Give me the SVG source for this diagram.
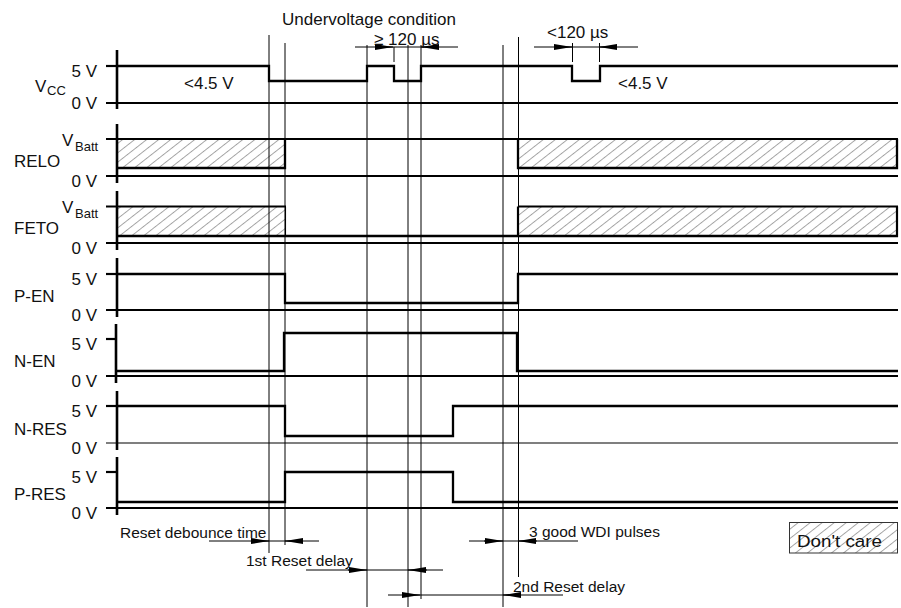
<svg xmlns="http://www.w3.org/2000/svg" width="901" height="608" viewBox="0 0 901 608">
<style>
text{font-family:"Liberation Sans",Arial,Helvetica,sans-serif;font-size:17px;fill:#111}
.sub{font-size:13px}
.note{font-size:15.5px}
.sig{fill:none;stroke:#000;stroke-width:2.3;stroke-linejoin:miter}
.base{fill:none;stroke:#000;stroke-width:2.2}
.thin{fill:none;stroke:#000;stroke-width:1.1}
.axis{fill:none;stroke:#000;stroke-width:2.6}
.guide{fill:none;stroke:#000;stroke-width:1}
.r{text-anchor:end}
</style>
<defs>
<pattern id="hatch" patternUnits="userSpaceOnUse" width="7.4" height="7.4" patternTransform="rotate(-38)">
<rect width="7.4" height="7.4" fill="#fff"/>
<line x1="0" y1="0.5" x2="7.4" y2="0.5" stroke="#808080" stroke-width="0.7"/>
</pattern>
<marker id="ah" viewBox="0 0 18 6" refX="18" refY="3" markerWidth="18" markerHeight="6" markerUnits="userSpaceOnUse" orient="auto">
<path d="M0,0 L18,3 L0,6 Z" fill="#000"/>
</marker>
</defs>
<rect width="901" height="608" fill="#fff"/>

<g id="vcc">
<text x="35" y="92">V</text><text class="sub" x="47" y="95">CC</text>
<text class="r" x="97" y="77">5 V</text>
<text class="r" x="97" y="109">0 V</text>
<line class="axis" x1="117" y1="50" x2="117" y2="109"/>
<line class="base" x1="106" y1="66" x2="117" y2="66"/>
<line class="base" x1="106" y1="103" x2="898" y2="103"/>
<path class="sig" d="M117,66 H269 V81 H367 V66 H394 V81 H421 V66 H572 V81 H600 V66 H898"/>
<text x="184" y="89">&lt;4.5 V</text>
<text x="618" y="89">&lt;4.5 V</text>
</g>

<g id="relo">
<text x="14" y="167">RELO</text>
<text x="62" y="146">V</text><text class="sub" x="75" y="151">Batt</text>
<text class="r" x="97" y="187">0 V</text>
<rect x="117" y="139" width="168" height="29" fill="url(#hatch)"/>
<rect x="518" y="139" width="379" height="29" fill="url(#hatch)"/>
<line class="axis" x1="117" y1="124" x2="117" y2="183"/>
<line class="base" x1="106" y1="139" x2="898" y2="139"/>
<path class="sig" d="M117,168 H285 V139"/>
<path class="sig" d="M518,139 V168 H897 V139"/>
<line class="base" x1="106" y1="176" x2="898" y2="176"/>
</g>

<g id="feto">
<text x="14" y="234">FETO</text>
<text x="62" y="213">V</text><text class="sub" x="75" y="218">Batt</text>
<text class="r" x="97" y="254">0 V</text>
<rect x="117" y="206.5" width="168" height="29.5" fill="url(#hatch)"/>
<rect x="518" y="206.5" width="379" height="29.5" fill="url(#hatch)"/>
<line class="axis" x1="117" y1="191" x2="117" y2="250"/>
<line class="base" x1="106" y1="206.5" x2="286" y2="206.5"/>
<line class="base" x1="518" y1="206.5" x2="898" y2="206.5"/>
<line class="thin" x1="285.5" y1="206.5" x2="285.5" y2="236"/>
<line class="base" x1="518" y1="206.5" x2="518" y2="236"/>
<line class="base" x1="897" y1="206.5" x2="897" y2="237"/>
<line class="sig" x1="116" y1="236" x2="898" y2="236"/>
<line class="base" x1="106" y1="243" x2="898" y2="243"/>
</g>

<g id="p-en">
<text x="14" y="302">P-EN</text>
<text class="r" x="97" y="285">5 V</text>
<text class="r" x="97" y="321">0 V</text>
<line class="axis" x1="117" y1="258" x2="117" y2="317"/>
<line class="base" x1="106" y1="274" x2="117" y2="274"/>
<path class="sig" d="M117,274 H285 V303 H518 V274 H898"/>
<line class="base" x1="106" y1="310" x2="898" y2="310"/>
</g>

<g id="n-en">
<text x="14" y="367">N-EN</text>
<text class="r" x="97" y="350">5 V</text>
<text class="r" x="97" y="387">0 V</text>
<line class="axis" x1="116" y1="324" x2="116" y2="383"/>
<line class="base" x1="106" y1="339" x2="116" y2="339"/>
<path class="sig" d="M116,371 H284 V333 H517 V371 H898"/>
<line class="base" x1="106" y1="376" x2="898" y2="376"/>
</g>

<g id="n-res">
<text x="14" y="435">N-RES</text>
<text class="r" x="97" y="417">5 V</text>
<text class="r" x="97" y="454">0 V</text>
<line class="axis" x1="117" y1="391" x2="117" y2="450"/>
<line class="base" x1="106" y1="406" x2="117" y2="406"/>
<path class="sig" d="M117,406 H285 V436 H453 V406 H898"/>
<line class="thin" x1="106" y1="443" x2="898" y2="443"/>
</g>

<g id="p-res">
<text x="14" y="500">P-RES</text>
<text class="r" x="97" y="483">5 V</text>
<text class="r" x="97" y="519">0 V</text>
<line class="axis" x1="117" y1="457" x2="117" y2="515"/>
<line class="base" x1="106" y1="472" x2="117" y2="472"/>
<path class="sig" d="M117,502 H285 V472 H453 V502 H898"/>
<line class="base" x1="106" y1="508" x2="898" y2="508"/>
</g>

<g id="legend">
<rect x="789.5" y="522.5" width="108" height="30.5" fill="url(#hatch)" stroke="#333" stroke-width="1"/>
<text x="797" y="547" textLength="85" lengthAdjust="spacingAndGlyphs">Don't care</text>
</g>

<g id="connectors">
<line class="guide" x1="269" y1="35" x2="269" y2="553"/>
<line class="guide" x1="285" y1="43" x2="285" y2="545"/>
<line class="guide" x1="367" y1="45" x2="367" y2="607"/>
<line class="guide" x1="408" y1="45" x2="408" y2="607"/>
<line class="guide" x1="421" y1="45" x2="421" y2="599"/>
<line class="guide" x1="503" y1="45" x2="503" y2="607"/>
<line class="guide" x1="518.5" y1="37" x2="518.5" y2="577"/>
<line class="guide" x1="394" y1="47" x2="394" y2="62"/>
<line class="guide" x1="572.5" y1="43" x2="572.5" y2="62"/>
<line class="guide" x1="599.5" y1="43" x2="599.5" y2="62"/>

<line class="guide" x1="355" y1="47" x2="458" y2="47"/>
<line class="guide" x1="375" y1="47" x2="393" y2="47" marker-end="url(#ah)"/>
<line class="guide" x1="438" y1="47" x2="421" y2="47" marker-end="url(#ah)"/>

<line class="guide" x1="534" y1="47" x2="638" y2="47"/>
<line class="guide" x1="554" y1="47" x2="572" y2="47" marker-end="url(#ah)"/>
<line class="guide" x1="617" y1="47" x2="599" y2="47" marker-end="url(#ah)"/>

<line class="guide" x1="209" y1="541" x2="319" y2="541"/>
<line class="guide" x1="251" y1="541" x2="269" y2="541" marker-end="url(#ah)"/>
<line class="guide" x1="303" y1="541" x2="285" y2="541" marker-end="url(#ah)"/>

<line class="guide" x1="306" y1="570" x2="443" y2="570"/>
<line class="guide" x1="348" y1="570" x2="367" y2="570" marker-end="url(#ah)"/>
<line class="guide" x1="427" y1="570" x2="408" y2="570" marker-end="url(#ah)"/>

<line class="guide" x1="469" y1="541" x2="578" y2="541"/>
<line class="guide" x1="484" y1="541" x2="503" y2="541" marker-end="url(#ah)"/>
<line class="guide" x1="537" y1="541" x2="518" y2="541" marker-end="url(#ah)"/>

<line class="guide" x1="388" y1="595" x2="563" y2="595"/>
<line class="guide" x1="402" y1="595" x2="420" y2="595" marker-end="url(#ah)"/>
<line class="guide" x1="521" y1="595" x2="503" y2="595" marker-end="url(#ah)"/>
</g>

<g id="annotations">
<text x="282" y="25">Undervoltage condition</text>
<text x="374" y="45">≥ 120  µs</text>
<text x="547" y="38">&lt;120 µs</text>
<text class="note" x="120" y="538">Reset debounce time</text>
<text class="note" x="246" y="566">1st Reset delay</text>
<text class="note" x="529" y="537">3 good WDI pulses</text>
<text class="note" x="513" y="592">2nd Reset delay</text>
</g>
</svg>
